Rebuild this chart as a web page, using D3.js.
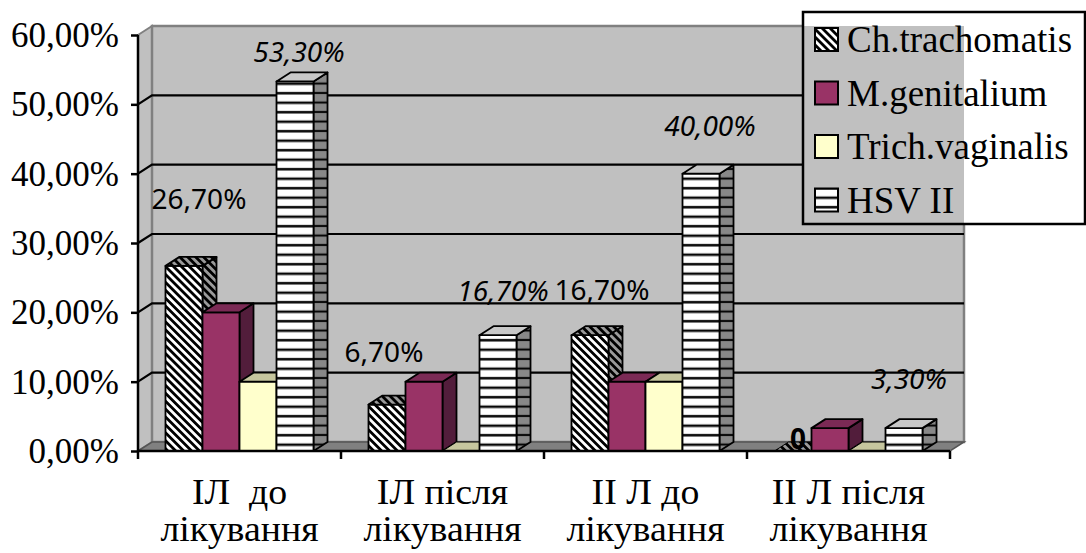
<!DOCTYPE html>
<html>
<head>
<meta charset="utf-8">
<script src="https://cdn.jsdelivr.net/npm/d3@7"></script>
<style>
  html, body { margin: 0; padding: 0; background: #fff; }
  svg { display: block; }
</style>
</head>
<body>
<svg id="chart" width="1086" height="553"></svg>
<script>
// ---- data ----
const categories = [["ІЛ  до", "лікування"], ["ІЛ після", "лікування"], ["ІІ Л до", "лікування"], ["ІІ Л після", "лікування"]];
const seriesNames = ["Ch.trachomatis", "M.genitalium", "Trich.vaginalis", "HSV II"];
const chValues = [26.7, 6.7, 16.7, 0];
const mgValues = [20, 10, 10, 3.3];
const tvValues = [10, 0, 10, 0];
const hsvValues = [53.3, 16.7, 40, 3.3];
const yTicks = [0, 10, 20, 30, 40, 50, 60];

// ---- layout ----
const SERIF = "'Liberation Serif'";
const SANS = "'Noto Sans'";
const plot = { left: 138, right: 950, top: 35, bottom: 451 };
const depth = { dx: 14, dy: -9 };
const wallRight = plot.right + depth.dx;

// label nudges relative to bar top centre (per series, per category)
const labelNudge = {
  0: [[8, -57], [-10, -43], [5, -35], [-2, -2]],
  3: [[-3, -19], [-2, -34], [2, -38], [-2, -39]]
};

const svg = d3.select("#chart");
svg.append("rect").attr("width", 1086).attr("height", 553).attr("fill", "#fff");
const defs = svg.append("defs");

// diagonal (\) stripe patterns
function diag(id, bg) {
  const s = 5.6;
  const p = defs.append("pattern").attr("id", id).attr("patternUnits", "userSpaceOnUse")
    .attr("width", s).attr("height", s).attr("patternTransform", "rotate(-45)");
  p.append("rect").attr("width", s).attr("height", s).attr("fill", bg);
  p.append("rect").attr("width", s / 2).attr("height", s).attr("fill", "#000");
}
diag("diagFront", "#fff");
diag("diagDark", "#9a9a9a");
// horizontal stripe patterns
function hStripes(id, bg) {
  const q = defs.append("pattern").attr("id", id).attr("patternUnits", "userSpaceOnUse")
    .attr("width", 10).attr("height", 9.5);
  q.append("rect").attr("width", 10).attr("height", 9.5).attr("fill", bg);
  q.append("rect").attr("y", 6.5).attr("width", 10).attr("height", 2).attr("fill", "#000");
  q.append("rect").attr("y", 8.5).attr("width", 10).attr("height", 1).attr("fill", "#808080");
}
hStripes("horizFront", "#fff");
hStripes("horizSide", "#888");

const seriesStyle = [
  { front: "url(#diagFront)", top: "url(#diagDark)", side: "url(#diagDark)" },
  { front: "#993366", top: "#7b2a55", side: "#521d3b" },
  { front: "#ffffcc", top: "#c6c69e", side: "#80806a" },
  { front: "url(#horizFront)", top: "#c8c8c8", side: "url(#horizSide)" }
];
const seriesValues = [chValues, mgValues, tvValues, hsvValues];

// ---- scales ----
const y = d3.scaleLinear().domain([0, 60]).range([plot.bottom, plot.top]);
const x0 = d3.scaleBand().domain(d3.range(categories.length)).range([plot.left, plot.right]).padding(0);
const x1 = d3.scaleBand().domain(d3.range(seriesNames.length)).range([0, x0.bandwidth()])
  .paddingInner(0).paddingOuter(0.743);

const poly = pts => "M" + pts.map(p => p.join(",")).join("L") + "Z";

// ---- walls ----
const g = svg.append("g");
g.append("path").attr("d", poly([[plot.left, plot.top], [plot.left + depth.dx, plot.top + depth.dy],
  [plot.left + depth.dx, plot.bottom + depth.dy], [plot.left, plot.bottom]]))
  .attr("fill", "#c0c0c0").attr("stroke", "#808080").attr("stroke-width", 2);
g.append("rect").attr("x", plot.left + depth.dx).attr("y", plot.top + depth.dy)
  .attr("width", wallRight - plot.left - depth.dx).attr("height", plot.bottom - plot.top)
  .attr("fill", "#c0c0c0").attr("stroke", "#808080").attr("stroke-width", 2.5);
g.append("path").attr("d", poly([[plot.left, plot.bottom], [plot.left + depth.dx, plot.bottom + depth.dy],
  [wallRight, plot.bottom + depth.dy], [plot.right, plot.bottom]]))
  .attr("fill", "#808080").attr("stroke", "#555").attr("stroke-width", 1.5);

const grid = yTicks.filter(t => t > 0 && t < 60);
g.selectAll(".grid").data(grid).join("path")
  .attr("d", t => `M${plot.left},${y(t)}L${plot.left + depth.dx},${y(t) + depth.dy}L${wallRight},${y(t) + depth.dy}`)
  .attr("fill", "none").attr("stroke", "#000").attr("stroke-width", 2.2);

// ---- bars ----
const bars = [];
categories.forEach((c, ci) => {
  seriesValues.forEach((vals, si) => bars.push({ ci, si, v: vals[ci] }));
});
const barG = svg.append("g").attr("stroke", "#000").attr("stroke-width", 1.8).attr("stroke-linejoin", "round");
bars.forEach(b => {
  const bx = x0(b.ci) + x1(b.si), bw = x1.bandwidth();
  const top = y(b.v), bot = y(0);
  const st = seriesStyle[b.si];
  const gg = barG.append("g");
  if (b.v > 0) {
    gg.append("path").attr("d", poly([[bx + bw, top], [bx + bw + depth.dx, top + depth.dy],
      [bx + bw + depth.dx, bot + depth.dy], [bx + bw, bot]])).attr("fill", st.side);
    gg.append("rect").attr("x", bx).attr("y", top).attr("width", bw).attr("height", bot - top).attr("fill", st.front);
  }
  gg.append("path").attr("d", poly([[bx, top], [bx + depth.dx, top + depth.dy],
    [bx + bw + depth.dx, top + depth.dy], [bx + bw, top]])).attr("fill", st.top)
    .attr("stroke-width", b.v > 0 ? 1.8 : 1);
});

// ---- axes ----
const axisY = d3.axisLeft(y).tickValues(yTicks).tickSize(7).tickPadding(12)
  .tickFormat(d => d3.format(".2f")(d).replace(".", ",") + "%");
const ay = svg.append("g").attr("transform", `translate(${plot.left},0)`).call(axisY)
  .attr("font-family", null).attr("font-size", null);
ay.select(".domain").remove();
ay.selectAll(".tick line").attr("stroke", "#000").attr("stroke-width", 2.5);
ay.selectAll(".tick text").style("font-family", SERIF).style("font-size", "35px")
  .attr("fill", "#000").attr("dy", "0.33em");
svg.append("line").attr("x1", plot.left).attr("x2", plot.left).attr("y1", plot.top).attr("y2", plot.bottom)
  .attr("stroke", "#000").attr("stroke-width", 2.5);

// category axis
svg.append("line").attr("x1", plot.left).attr("x2", plot.right).attr("y1", plot.bottom).attr("y2", plot.bottom)
  .attr("stroke", "#000").attr("stroke-width", 2.5);
const bounds = d3.range(categories.length + 1).map(i => i < categories.length ? x0(i) : plot.right);
svg.selectAll(".ctick").data(bounds).join("line")
  .attr("x1", d => d).attr("x2", d => d).attr("y1", plot.bottom).attr("y2", plot.bottom + 8)
  .attr("stroke", "#000").attr("stroke-width", 2.5);
const cl = svg.selectAll(".clabel").data(categories).join("text")
  .attr("transform", (d, i) => `translate(${x0(i) + x0.bandwidth() / 2},0) scale(1.05,1)`)
  .style("font-family", SERIF).style("font-size", "36px").attr("text-anchor", "middle")
  .style("white-space", "pre").attr("fill", "#000");
cl.append("tspan").attr("x", 0).attr("y", 504).text(d => d[0]);
cl.append("tspan").attr("x", 0).attr("y", 541).text(d => d[1]);

// ---- data labels ----
const fmt = v => v === 0 ? "0" : d3.format(".2f")(v).replace(".", ",") + "%";
Object.keys(labelNudge).forEach(k => {
  const si = +k;
  seriesValues[si].forEach((v, ci) => {
    const [nx, ny] = labelNudge[si][ci];
    const cx = x0(ci) + x1(si) + x1.bandwidth() / 2 + depth.dx / 2 + nx;
    svg.append("text").style("font-family", SANS).style("font-size", "28px")
      .style("font-style", si === 3 ? "italic" : "normal")
      .style("font-weight", v === 0 ? "bold" : "normal")
      .attr("text-anchor", "middle").attr("x", cx).attr("y", y(v) + ny).text(fmt(v));
  });
});

// ---- legend ----
const lg = svg.append("g");
const L = { x: 803, y: 12, w: 282, h: 212 };
lg.append("rect").attr("x", L.x).attr("y", L.y).attr("width", L.w).attr("height", L.h).attr("fill", "#fff");
lg.append("rect").attr("x", L.x).attr("y", plot.top + depth.dy).attr("width", wallRight - L.x)
  .attr("height", L.y + L.h - plot.top - depth.dy).attr("fill", "#c0c0c0");
lg.append("rect").attr("x", L.x).attr("y", L.y).attr("width", L.w).attr("height", L.h)
  .attr("fill", "none").attr("stroke", "#000").attr("stroke-width", 2.5);
seriesNames.forEach((s, i) => {
  const yy = 28 + i * 53.5;
  lg.append("rect").attr("x", 815).attr("y", yy).attr("width", 23).attr("height", 23)
    .attr("fill", seriesStyle[i].front).attr("stroke", "#000").attr("stroke-width", 2);
  lg.append("text").style("font-family", SERIF).style("font-size", "37px").attr("fill", "#000")
    .attr("x", 847).attr("y", yy + 24).text(s);
});
</script>
</body>
</html>
